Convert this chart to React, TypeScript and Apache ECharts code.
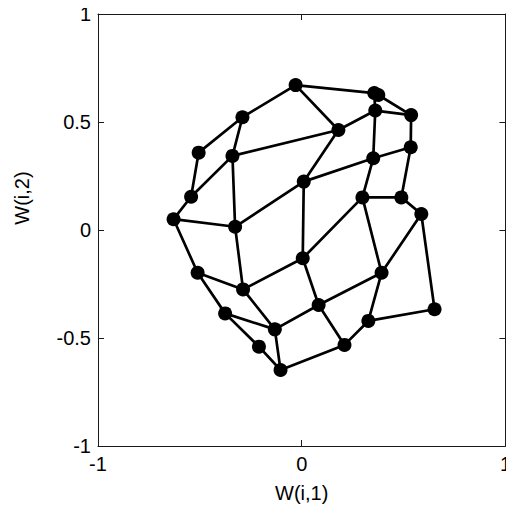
import React, { useEffect, useRef } from "react";
import * as echarts from "echarts";

// SOM weight positions, 5 rows x 6 columns of neurons
const weightX: number[][] = [
  [-0.506, -0.543, -0.629, -0.511, -0.376, -0.21],
  [-0.291, -0.34, -0.327, -0.288, -0.132, -0.104],
  [-0.03, 0.18, 0.01, 0.005, 0.083, 0.21],
  [0.356, 0.361, 0.351, 0.298, 0.392, 0.327],
  [0.376, 0.537, 0.535, 0.489, 0.587, 0.652],
];
const weightY: number[][] = [
  [0.358, 0.154, 0.05, -0.198, -0.386, -0.54],
  [0.522, 0.343, 0.015, -0.275, -0.46, -0.648],
  [0.671, 0.463, 0.224, -0.131, -0.347, -0.532],
  [0.634, 0.553, 0.332, 0.151, -0.198, -0.421],
  [0.625, 0.532, 0.383, 0.151, 0.074, -0.367],
];
const xTicks = [-1, 0, 1];
const yTicks = [-1, -0.5, 0, 0.5, 1];
const xName = "W(i,1)";
const yName = "W(i,2)";

export default function App() {
  const ref = useRef<HTMLDivElement>(null);
  useEffect(() => {
    if (!ref.current) return;
    const chart = echarts.init(ref.current, undefined, { renderer: "svg" });
    const rows = weightX.length;
    const cols = weightX[0].length;
    const lineSeries: any[] = [];
    const lineStyle = { color: "#000", width: 2.7, opacity: 1 };
    for (let r = 0; r < rows; r++) {
      lineSeries.push({
        type: "line",
        data: weightX[r].map((x, c) => [x, weightY[r][c]]),
        symbol: "none",
        lineStyle,
        silent: true,
      });
    }
    for (let c = 0; c < cols; c++) {
      const d: number[][] = [];
      for (let r = 0; r < rows; r++) d.push([weightX[r][c], weightY[r][c]]);
      lineSeries.push({ type: "line", data: d, symbol: "none", lineStyle, silent: true });
    }
    const pts: number[][] = [];
    for (let r = 0; r < rows; r++)
      for (let c = 0; c < cols; c++) pts.push([weightX[r][c], weightY[r][c]]);
    const font = "Liberation Sans, Arial, sans-serif";
    const axisColor = "#1a1a1a";
    const fs = 20;
    const baseX = {
      type: "value",
      min: xTicks[0],
      max: xTicks[xTicks.length - 1],
      interval: 1,
      splitLine: { show: false },
      axisLine: { show: true, onZero: false, lineStyle: { color: axisColor, width: 1 } },
      axisTick: { show: true, inside: true, length: 6, lineStyle: { color: axisColor } },
    };
    const baseY = {
      type: "value",
      min: yTicks[0],
      max: yTicks[yTicks.length - 1],
      interval: 0.5,
      splitLine: { show: false },
      axisLine: { show: true, onZero: false, lineStyle: { color: axisColor, width: 1 } },
      axisTick: { show: true, inside: true, length: 6, lineStyle: { color: axisColor } },
    };
    chart.setOption({
      animation: false,
      backgroundColor: "#fff",
      grid: { left: 98, right: 6, top: 14, bottom: 68 },
      xAxis: [
        {
          ...baseX,
          position: "bottom",
          name: xName,
          nameLocation: "middle",
          nameGap: 37,
          nameTextStyle: { color: "#000", fontSize: fs, fontFamily: font },
          axisLabel: {
            color: "#000",
            fontSize: fs,
            fontFamily: font,
            margin: 8,
            formatter: (v: number) => String(v),
          },
        },
        { ...baseX, position: "top", axisLabel: { show: false } },
      ],
      yAxis: [
        {
          ...baseY,
          position: "left",
          name: yName,
          nameLocation: "middle",
          nameGap: 66,
          nameRotate: 90,
          nameTextStyle: {
            color: "#000",
            fontSize: fs,
            fontFamily: font,
            padding: [0, 0, 0, 64],
          },
          axisLabel: {
            color: "#000",
            fontSize: fs,
            fontFamily: font,
            margin: 7,
            formatter: (v: number) => String(v),
          },
        },
        { ...baseY, position: "right", axisLabel: { show: false } },
      ],
      series: [
        ...lineSeries,
        {
          type: "scatter",
          data: pts,
          symbol: "circle",
          symbolSize: 14,
          itemStyle: { color: "#000", opacity: 1 },
          silent: true,
          z: 5,
        },
      ],
    });
    return () => chart.dispose();
  }, []);
  return <div ref={ref} style={{ width: 514, height: 514, margin: -8 }} />;
}
